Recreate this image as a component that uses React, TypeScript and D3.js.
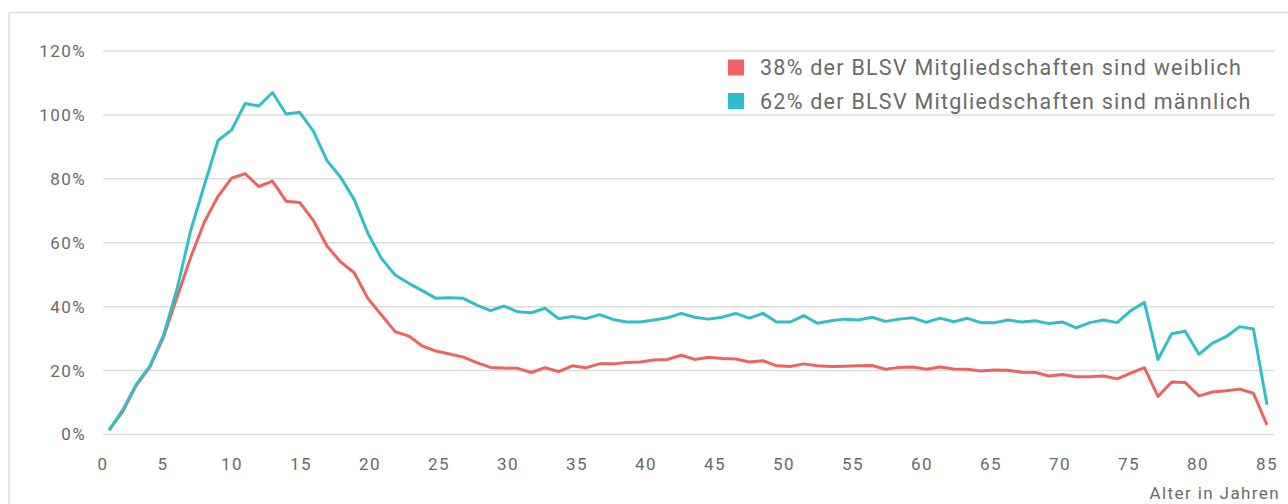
import React from 'react';
import * as d3 from 'd3';

// Alter 0..85, Anteil in %
const ages = d3.range(0, 86);

const female = [
  1.4, 7.1, 15.4, 21.1, 30.5, 43, 55.5, 66.5, 74.5, 80.2,
  81.6, 77.6, 79.3, 73, 72.6, 67, 59, 54, 50.6, 42.6,
  37.4, 32.2, 30.8, 27.7, 26.1, 25.2, 24.2, 22.5, 21, 20.8,
  20.7, 19.4, 20.9, 19.7, 21.5, 20.9, 22.1, 22.1, 22.5, 22.7,
  23.3, 23.5, 24.8, 23.5, 24.2, 23.75, 23.6, 22.7, 23.1, 21.5,
  21.25, 22.1, 21.5, 21.25, 21.35, 21.5, 21.6, 20.4, 21, 21.1,
  20.4, 21.1, 20.5, 20.4, 19.9, 20.2, 20.1, 19.5, 19.4, 18.3,
  18.75, 18.1, 18.1, 18.3, 17.4, 19.2, 20.9, 11.9, 16.4, 16.25,
  12.1, 13.3, 13.7, 14.2, 12.9, 3,
];

const male = [
  1.4, 7.6, 15.7, 21.4, 31, 45.6, 63.9, 78, 92, 95.3,
  103.6, 102.8, 107, 100.3, 100.8, 94.9, 85.7, 80.5, 73.5, 63,
  55.1, 49.9, 47.3, 45, 42.6, 42.8, 42.6, 40.5, 38.75, 40.2,
  38.4, 38.1, 39.5, 36.25, 36.9, 36.25, 37.5, 36, 35.2, 35.2,
  35.8, 36.5, 37.9, 36.7, 36.1, 36.7, 37.9, 36.4, 37.9, 35.2,
  35.2, 37.2, 34.8, 35.6, 36.1, 35.8, 36.7, 35.4, 36.1, 36.5,
  35.1, 36.4, 35.3, 36.35, 35, 35, 35.8, 35.2, 35.6, 34.7,
  35.2, 33.4, 35, 35.8, 35, 38.75, 41.35, 23.5, 31.5, 32.3,
  25.1, 28.6, 30.6, 33.75, 33, 9.3,
];

const yTicks = [0, 20, 40, 60, 80, 100, 120];
const xTicks = d3.range(0, 86, 5);

const legendLabels = [
  '38% der BLSV Mitgliedschaften sind weiblich',
  '62% der BLSV Mitgliedschaften sind männlich',
];
const axisTitle = 'Alter in Jahren';

const RED = '#f06262';
const CYAN = '#2ebfc9';
const TEXT = '#6a6a6a';
const FONT = 'Roboto, "Noto Sans", sans-serif';

const W = 1288;
const H = 504;
const plotLeft = 103;
const plotRight = 1267;

export default function App() {
  const x = d3.scaleLinear().domain([0, 85]).range([plotLeft + 6, plotRight]);
  const xLabel = d3.scaleLinear().domain([0, 85]).range([plotLeft - 9, plotRight]);
  const y = d3.scaleLinear().domain([0, 120]).range([434.5, 51]);

  const line = d3
    .line<number>()
    .x((_, i) => x(ages[i]))
    .y(d => y(d));

  const series = [
    { values: female, color: RED },
    { values: male, color: CYAN },
  ];

  return (
    <svg
      width={W}
      height={H}
      style={{ position: 'absolute', left: 0, top: 0, background: '#fff' }}
      fontFamily={FONT}
    >
      <rect x={9} y={12.5} width={W + 20} height={H + 20} fill="#fff" stroke="#dedede" strokeWidth={1.5} />

      {yTicks.map(t => (
        <g key={t}>
          <line x1={plotLeft} x2={plotRight + 7} y1={y(t)} y2={y(t)} stroke="#dcdcdc" strokeWidth={1.5} />
          <text x={86} y={y(t)} dy="0.35em" textAnchor="end" fontSize={17} letterSpacing={1.4} fill={TEXT}>
            {t}%
          </text>
        </g>
      ))}

      {xTicks.map(t => (
        <text
          key={t}
          x={Math.max(xLabel(t), plotLeft)}
          y={470}
          textAnchor="middle"
          fontSize={17}
          letterSpacing={1.4}
          fill={TEXT}
        >
          {t}
        </text>
      ))}

      <text x={1280} y={499} textAnchor="end" fontSize={17} letterSpacing={1.4} fill={TEXT}>
        {axisTitle}
      </text>

      {series.map((s, i) => (
        <path
          key={i}
          d={line(s.values) || ''}
          fill="none"
          stroke={s.color}
          strokeWidth={3}
          strokeLinejoin="round"
        />
      ))}

      {legendLabels.map((label, i) => (
        <g key={label} transform={`translate(728, ${67.5 + i * 33.5})`}>
          <rect x={0} y={-8} width={16} height={16} fill={series[i].color} />
          <text x={32} y={0} dy="0.35em" fontSize={21.5} letterSpacing={1.25} fill={TEXT}>
            {label}
          </text>
        </g>
      ))}
    </svg>
  );
}
